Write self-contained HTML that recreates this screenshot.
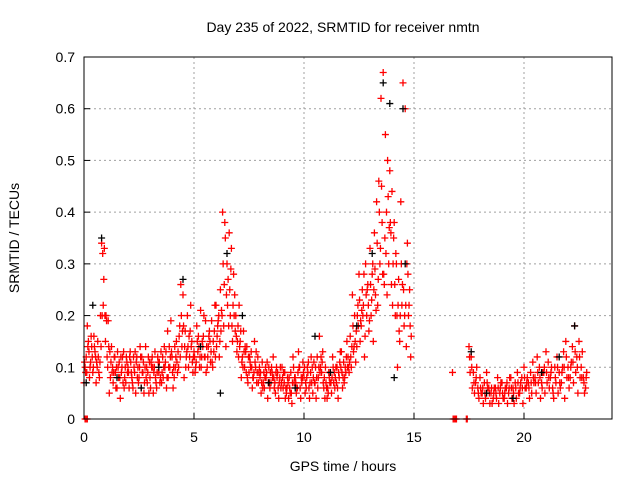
<!DOCTYPE html>
<html><head><meta charset="utf-8"><style>
body{margin:0;background:#fff}
svg text{font-family:"Liberation Sans",sans-serif;font-size:14px;fill:#000}
</style></head><body>
<svg id="chart" width="640" height="480">
<rect width="640" height="480" fill="#fff"/>
<text x="343" y="32" text-anchor="middle">Day 235 of 2022, SRMTID for receiver nmtn</text>
<text x="343" y="471" text-anchor="middle">GPS time / hours</text>
<text transform="translate(19,238) rotate(-90)" text-anchor="middle">SRMTID / TECUs</text>
<g id="grid"></g><g id="ticks"></g><g id="marks"></g>
<rect x="84" y="57" width="528" height="362" fill="none" stroke="#000" stroke-width="1"/>
</svg>
<script>
const xTicks=[0,5,10,15,20];
const yTicks=[0,0.1,0.2,0.3,0.4,0.5,0.6,0.7];
const yTickLabels=["0","0.1","0.2","0.3","0.4","0.5","0.6","0.7"];
const seg1Start=0.0, seg2Start=17.5, step=0.1;
const seg1A=[.07,.12,.15,.11,.09,.13,.1,.08,.34,.27,.2,.19,.08,.1,.12,.06,.11,.09,.13,.07,.1,.13,.07,.09,.12,.08,.06,.11,.14,.09,.08,.12,.1,.06,.09,.13,.08,.11,.17,.1,.12,.08,.15,.1,.26,.24,.17,.2,.12,.15,.13,.11,.16,.21,.14,.12,.1,.17,.19,.13,.22,.19,.25,.4,.38,.3,.36,.33,.28,.2,.18,.15,.12,.1,.14,.09,.13,.08,.1,.12,.08,.11,.06,.09,.1,.07,.12,.05,.09,.08,.1,.07,.05,.04,.09,.12,.08,.06,.1,.07,.08,.06,.11,.09,.05,.07,.12,.16,.09,.06,.07,.05,.09,.12,.06,.1,.08,.13,.11,.09,.12,.16,.24,.2,.14,.28,.18,.22,.3,.26,.33,.28,.36,.42,.46,.62,.67,.55,.5,.48,.44,.38,.3,.27,.42,.65,.6,.34,.25];
const seg1B=[.1,.18,.08,.14,.16,.07,.12,.2,.32,.2,.12,.05,.14,.09,.06,.1,.04,.12,.08,.11,.06,.09,.12,.05,.1,.14,.09,.07,.1,.05,.11,.05,.08,.12,.07,.09,.14,.06,.1,.19,.06,.1,.09,.18,.14,.08,.12,.1,.22,.09,.09,.15,.1,.12,.2,.09,.14,.11,.1,.22,.16,.12,.21,.18,.14,.27,.2,.15,.24,.13,.22,.08,.17,.13,.07,.11,.06,.15,.07,.09,.05,.07,.1,.04,.06,.09,.06,.1,.04,.06,.06,.04,.08,.06,.03,.07,.05,.13,.04,.11,.05,.1,.04,.07,.11,.04,.08,.1,.13,.04,.04,.08,.05,.07,.1,.04,.13,.06,.08,.15,.09,.1,.13,.11,.22,.15,.25,.12,.2,.17,.2,.15,.24,.22,.3,.38,.26,.4,.3,.36,.3,.2,.1,.15,.22,.18,.14,.2,.12];
const seg1C=[.11,.09,.13,.16,.1,.12,.15,.11,.2,.33,.19,.14,.11,.07,.09,.13,.08,.1,.06,.12,.09,.11,.06,.13,.08,.1,.12,.05,.08,.12,.06,.1,.13,.09,.11,.07,.1,.13,.08,.12,.09,.14,.11,.16,.2,.18,.1,.14,.17,.11,.12,.18,.14,.1,.16,.19,.12,.15,.11,.17,.14,.2,.17,.3,.35,.22,.25,.18,.2,.16,.12,.17,.1,.14,.08,.12,.1,.09,.13,.07,.09,.06,.08,.11,.07,.1,.08,.09,.06,.1,.08,.09,.06,.08,.05,.1,.07,.09,.06,.08,.1,.08,.06,.12,.08,.1,.06,.09,.11,.08,.06,.09,.07,.1,.08,.06,.11,.09,.07,.12,.1,.12,.18,.15,.2,.23,.21,.28,.24,.22,.26,.3,.29,.34,.4,.45,.28,.32,.43,.38,.22,.26,.2,.17,.3,.25,.22,.28,.18];
const seg1D=[.09,.14,.1,.12,.14,.11,.09,.14,.22,.15,.1,.13,.09,.12,.1,.08,.12,.07,.1,.09,.12,.08,.1,.11,.07,.12,.09,.1,.07,.11,.1,.09,.07,.11,.08,.12,.1,.08,.14,.13,.1,.12,.13,.12,.17,.14,.13,.16,.14,.12,.1,.13,.12,.15,.12,.14,.16,.13,.15,.12,.18,.15,.2,.26,.24,.18,.29,.22,.17,.15,.14,.11,.13,.09,.12,.1,.08,.11,.09,.1,.07,.09,.08,.07,.09,.08,.07,.08,.07,.07,.09,.06,.07,.05,.07,.08,.06,.1,.08,.09,.07,.09,.07,.1,.07,.08,.1,.12,.07,.1,.06,.07,.08,.09,.07,.09,.1,.08,.1,.1,.11,.14,.14,.17,.18,.19,.2,.16,.25,.19,.23,.25,.21,.27,.33,.28,.35,.24,.37,.26,.35,.32,.22,.2,.26,.2,.3,.22,.16];
const seg2A=[.14,.12,.09,.07,.06,.08,.05,.07,.09,.06,.05,.04,.06,.08,.05,.07,.04,.06,.05,.08,.06,.07,.09,.05,.08,.1,.06,.07,.09,.11,.08,.12,.1,.07,.09,.13,.11,.08,.06,.1,.12,.09,.07,.13,.15,.1,.08,.14,.18,.12,.15,.1,.08,.06];
const seg2B=[.09,.06,.05,.1,.04,.05,.03,.04,.06,.03,.03,.06,.04,.03,.07,.04,.06,.03,.08,.04,.03,.04,.05,.07,.03,.06,.08,.04,.05,.07,.05,.07,.04,.09,.05,.07,.06,.1,.04,.07,.05,.06,.1,.04,.08,.06,.11,.07,.09,.05,.08,.13,.05,.09];
const seg2C=[.12,.1,.07,.08,.05,.06,.06,.05,.07,.05,.06,.05,.05,.06,.06,.05,.05,.07,.06,.06,.05,.06,.07,.06,.06,.08,.07,.06,.07,.08,.07,.09,.08,.06,.1,.09,.08,.09,.05,.08,.1,.07,.09,.1,.12,.08,.1,.11,.13,.1,.12,.08,.07,.08];
const extraT=[0.05,0.1,0.15,16.78,16.83,16.88,16.93,17.38,17.42,16.75];
const extraV=[0,0,0,0,0,0,0,0,0,0.09];
const blackT=[0.1,0.4,0.8,1.5,2.6,3.4,4.5,5.3,6.2,6.5,7.2,8.4,9.6,10.5,11.2,12.4,13.1,13.6,13.9,14.1,14.5,14.6,17.6,18.3,19.5,20.8,21.6,22.3];
const blackV=[.07,.22,.35,.08,.06,.1,.27,.14,.05,.32,.2,.07,.06,.16,.09,.18,.32,.65,.61,.08,.6,.3,.13,.05,.04,.09,.12,.18];

const X0=84,X1=612,Y0=419,Y1=57,XMAX=24,YMAX=0.7;
const xs=t=>X0+t/XMAX*(X1-X0);
const ys=v=>Y0-v/YMAX*(Y0-Y1);
const NS='http://www.w3.org/2000/svg';
const grid=document.getElementById('grid'),ticks=document.getElementById('ticks'),marks=document.getElementById('marks');
function mk(tag,attrs,parent){const e=document.createElementNS(NS,tag);for(const k in attrs)e.setAttribute(k,attrs[k]);parent.appendChild(e);return e;}
xTicks.forEach(t=>{
  const x=xs(t);
  if(t>0){const g=mk('line',{x1:x,x2:x,y1:Y1,y2:Y0,stroke:'#a0a0a0','stroke-dasharray':'2,3'},grid);
  
  }
  const tk=mk('line',{x1:x,x2:x,y1:Y0,y2:Y0-6,stroke:'#000'},ticks);
  
  
  const lb=mk('text',{x:x,y:442,'text-anchor':'middle'},ticks);lb.textContent=t;
  
  
});
yTicks.forEach((v,i)=>{
  const y=ys(v);
  if(v>0&&v<YMAX){const g=mk('line',{x1:X0,x2:X1,y1:y,y2:y,stroke:'#a0a0a0','stroke-dasharray':'2,3'},grid);
  
  }
  const tk=mk('line',{x1:X0,x2:X0+6,y1:y,y2:y,stroke:'#000'},ticks);
  
  
  const lb=mk('text',{x:75,y:y+5,'text-anchor':'end'},ticks);lb.textContent=yTickLabels[i];
  
  
});
function plus(t,v,color,name){
  const x=xs(t),y=ys(v);
  const p=mk('path',{d:`M${x-3.5},${y}h7M${x},${y-3.5}v7`,stroke:color,'stroke-width':1.3,fill:'none'},marks);
  
  
}
seg1A.forEach((v,i)=>plus(seg1Start+i*step,v,'#ff0000','red-point'));
seg1B.forEach((v,i)=>plus(seg1Start+i*step+0.05,v,'#ff0000','red-point'));
seg1C.forEach((v,i)=>plus(seg1Start+i*step+0.025,v,'#ff0000','red-point'));
seg1D.forEach((v,i)=>plus(seg1Start+i*step+0.075,v,'#ff0000','red-point'));
seg2A.forEach((v,i)=>plus(seg2Start+i*step,v,'#ff0000','red-point'));
seg2B.forEach((v,i)=>plus(seg2Start+i*step+0.05,v,'#ff0000','red-point'));
seg2C.forEach((v,i)=>plus(seg2Start+i*step+0.025,v,'#ff0000','red-point'));
extraT.forEach((t,i)=>plus(t,extraV[i],'#ff0000','red-point'));
blackT.forEach((t,i)=>plus(t,blackV[i],'#000000','black-point'));
</script>
</body></html>
